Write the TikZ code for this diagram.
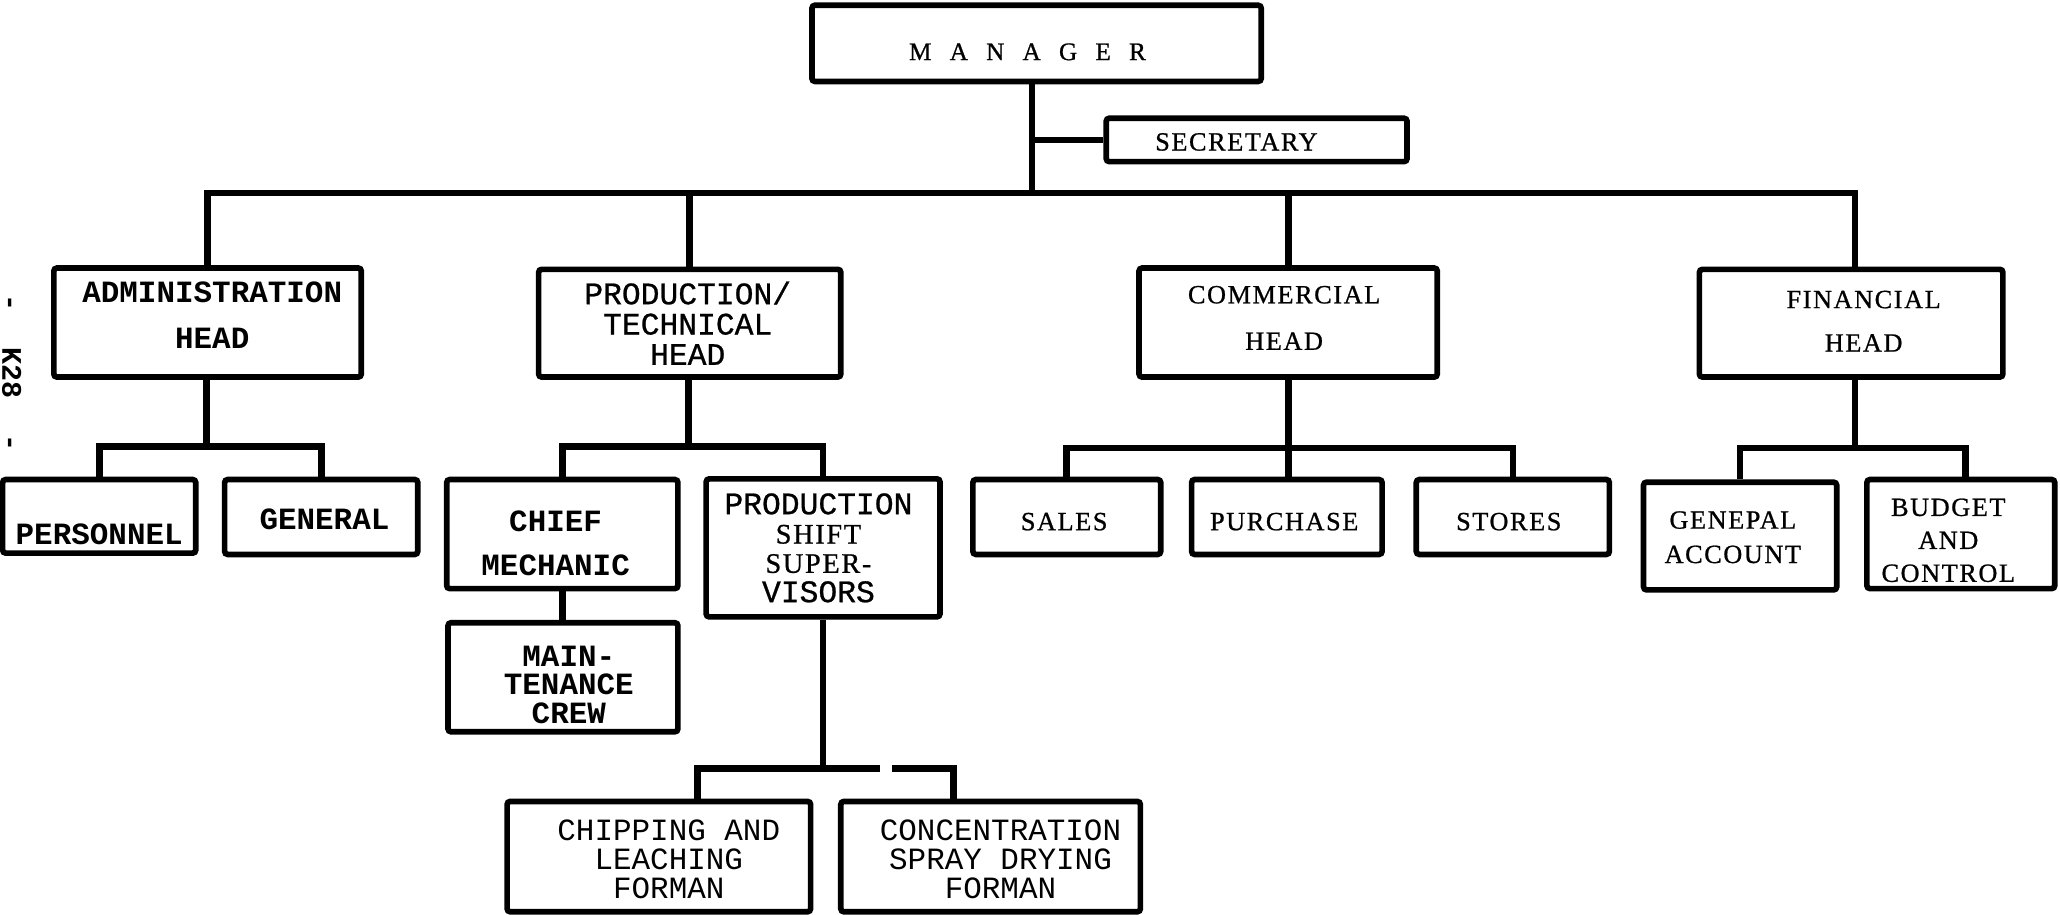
\documentclass[tikz,border=0pt]{standalone}
\usepackage{fontspec}
\setmainfont{Liberation Serif}
\newfontfamily\serifsp{Liberation Serif}[LetterSpace=6, FakeBold=0.8]
\newfontfamily\mono{Liberation Mono}
\newfontfamily\monomed{Liberation Mono}[FakeBold=0.8]

\tikzset{
  box/.style={draw, line width=2.8pt, rounded corners=1.5pt, inner sep=0pt, fill=white},
  wh/.style 2 args={minimum width=#1*0.65pt, minimum height=#2*0.65pt},
  link/.style={line width=3.3pt},
  txt/.style={align=center, inner sep=0pt},
  tbold/.style={txt, font=\mono\bfseries\fontsize{15.3}{#1}\selectfont},
  tbold/.default=18pt,
  tmed/.style={txt, font=\monomed\fontsize{15.5}{#1}\selectfont},
  tmed/.default=18pt,
  treg/.style={txt, font=\mono\fontsize{15.3}{#1}\selectfont},
  treg/.default=18pt,
  tser/.style={txt, font=\serifsp\fontsize{13}{#1}\selectfont},
  tser/.default=16pt,
}

\begin{document}
\begin{tikzpicture}[x=0.65pt, y=-0.65pt]
\useasboundingbox (0,0) rectangle (1568,696);

% ---- top level ----
\node[box, wh={342}{58}, label={[txt, font={\serifsp\fontsize{12.5}{15}\selectfont\spaceskip=9pt\relax}, xshift=-4.5pt, yshift=-4.2pt]center:{M A N A G E R}}] (manager) at (789,33) {};
\node[box, wh={229}{33}, label={[tser, xshift=-10pt, yshift=-1pt]center:{SECRETARY}}] (secretary) at (956.5,106.5) {};

% ---- department heads ----
\node[box, wh={234}{83}, label={[tbold=22.4pt, xshift=2.3pt, yshift=3.6pt]center:{ADMINISTRATION\\HEAD}}] (admin) at (158,245.5) {};
\node[box, wh={230}{82}, label={[tmed=15pt, xshift=-1pt]center:{PRODUCTION/\\TECHNICAL\\HEAD}}] (prod) at (525,246) {};
\node[box, wh={227}{83}, label={[tser=23pt, xshift=-2pt, yshift=2.3pt]center:{COMMERCIAL\\HEAD}}] (comm) at (980.5,245.5) {};
\node[box, wh={231}{82}, label={[tser=21.5pt, xshift=6.2pt, yshift=1pt]center:{FINANCIAL\\HEAD}}] (fin) at (1409,246) {};

% ---- administration ----
\node[box, wh={147}{56}, label={[tbold, yshift=-9.1pt]center:{PERSONNEL}}] (personnel) at (75.5,393) {};
\node[box, wh={147}{57}, label={[tbold, xshift=1.6pt, yshift=-1pt]center:{GENERAL}}] (general) at (244.5,393.5) {};

% ---- production / technical ----
\node[box, wh={176}{83}, label={[tbold=21.5pt, xshift=-3.3pt, yshift=-4.5pt]center:{CHIEF\\MECHANIC}}] (chief) at (428,406.5) {};
\node[box, wh={178}{105}, label={[tmed=14.5pt, xshift=-2.3pt]center:{PRODUCTION\\{\serifsp\fontsize{14}{14.5}\selectfont SHIFT}\\{\serifsp\fontsize{14}{14.5}\selectfont SUPER-}\\VISORS}}] (sup) at (626.5,417) {};
\node[box, wh={175}{83}, label={[tbold=14pt, xshift=2.9pt, yshift=-3.8pt]center:{MAIN-\\TENANCE\\CREW}}] (maint) at (428.5,515.5) {};
\node[box, wh={231}{84}, label={[treg=14.3pt, xshift=4.9pt, yshift=-1.5pt]center:{CHIPPING AND\\LEACHING\\FORMAN}}] (chip) at (501.5,652) {};
\node[box, wh={228}{84}, label={[treg=14.3pt, xshift=4.9pt, yshift=-1.5pt]center:{CONCENTRATION\\SPRAY DRYING\\FORMAN}}] (conc) at (754,652) {};

% ---- commercial ----
\node[box, wh={143}{57}, label={[tser, xshift=-1.3pt, yshift=-2.3pt]center:{SALES}}] (sales) at (812,393.5) {};
\node[box, wh={145}{57}, label={[tser, xshift=-1.3pt, yshift=-2.3pt]center:{PURCHASE}}] (purchase) at (979.5,393.5) {};
\node[box, wh={147}{57}, label={[tser, xshift=-2pt, yshift=-2.3pt]center:{STORES}}] (stores) at (1151.5,393.5) {};

% ---- financial ----
\node[box, wh={147}{82}, label={[tser=17pt, xshift=-3.6pt, yshift=-0.6pt]center:{GENEPAL\\ACCOUNT}}] (genacct) at (1324.5,408) {};
\node[box, wh={143}{83}, label={[tser=16.3pt, xshift=-6.2pt, yshift=-3.1pt]center:{BUDGET\\AND\\CONTROL}}] (budget) at (1492.5,406.5) {};

% ---- page number in the margin ----
\node[rotate=-90, inner sep=0pt, font=\mono\bfseries\fontsize{14}{14}\selectfont] (pageno) at (9,284) {-\hspace{18pt}K28\hspace{18pt}-};

% ---- connectors ----
\coordinate (mbus) at (785.5,147);
\coordinate (fdrop) at (1412,147);
\draw[link] (mbus |- manager.south) -- (mbus);
\draw[link] (mbus |- secretary.west) -- (secretary.west);
\draw[link] (admin.north) |- (fdrop) -- (fdrop |- fin.north);
\draw[link] (prod.north) -- (prod.north |- mbus);
\draw[link] (comm.north) -- (comm.north |- mbus);

\coordinate (abus) at (157,340);
\draw[link] (abus |- admin.south) -- (abus);
\draw[link] (personnel.north) |- (abus) -| (general.north);

\coordinate (pbus) at (524,340);
\draw[link] (pbus |- prod.south) -- (pbus);
\draw[link] (chief.north) |- (pbus) -| (sup.north);
\draw[link] (chief.south) -- (chief.south |- maint.north);

\coordinate (gapl) at (670,585);
\coordinate (gapr) at (679,585);
\coordinate (chipx) at (531,0);
\coordinate (concx) at (726,0);
\draw[link] (sup.south) -- (sup.south |- gapl);
\draw[link] (chip.north -| chipx) |- (gapl);
\draw[link] (gapr) -| (conc.north -| concx);

\coordinate (cbus) at (981,341);
\draw[link] (cbus |- comm.south) -- (cbus);
\draw[link] (sales.north) |- (cbus) -| (stores.north);
\draw[link] (cbus) -- (cbus |- purchase.north);

\coordinate (fbus) at (1412,341);
\coordinate (budgx) at (1496,0);
\draw[link] (fbus |- fin.south) -- (fbus);
\draw[link] (genacct.north) |- (fbus) -| (budget.north -| budgx);
\end{tikzpicture}
\end{document}
